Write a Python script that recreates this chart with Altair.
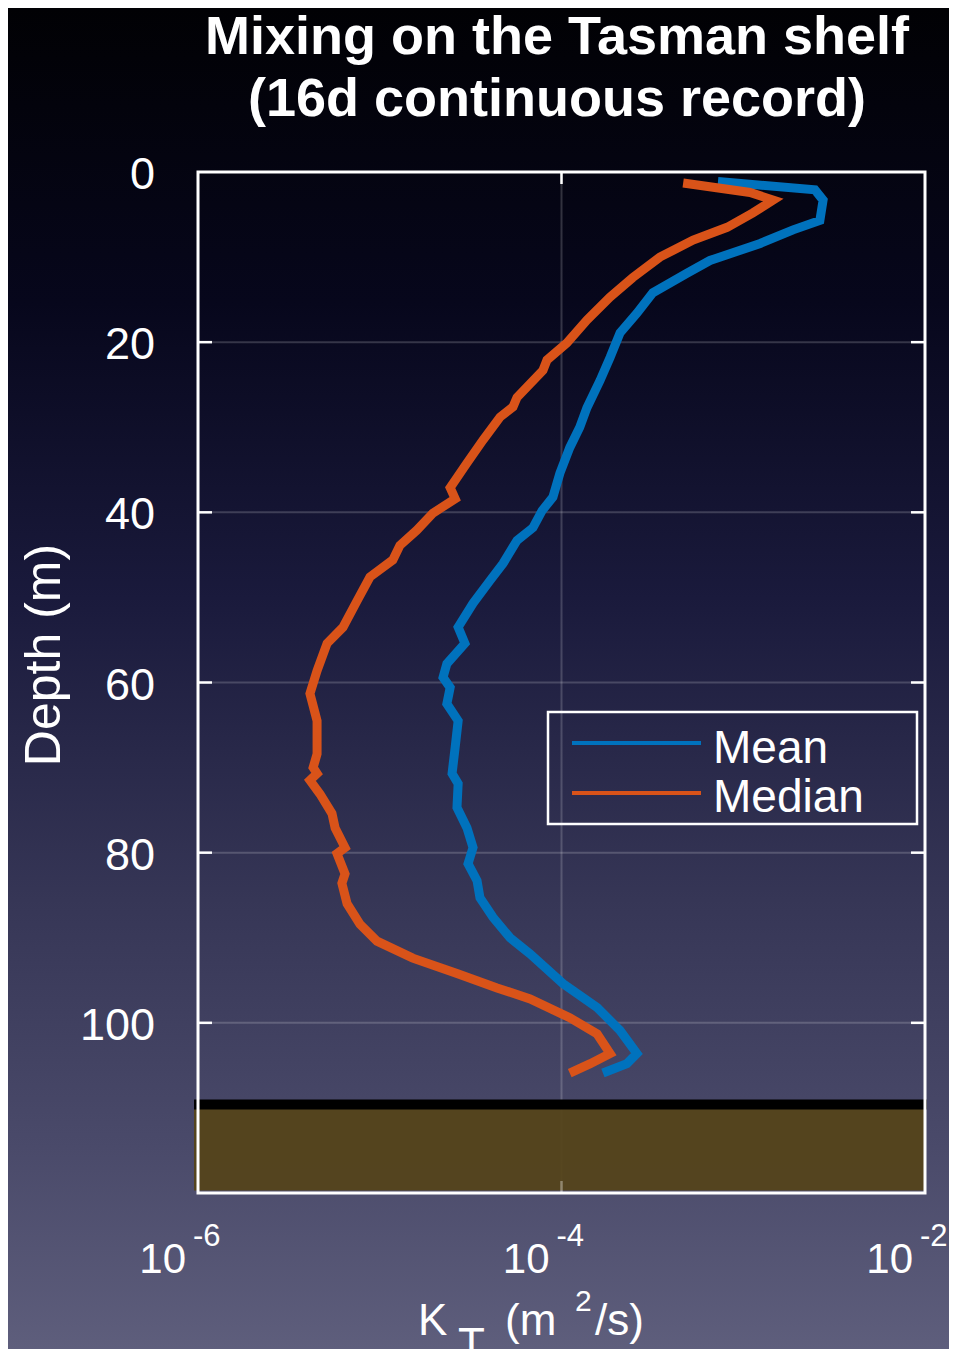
import altair as alt
import pandas as pd

# ---------------- data ----------------
depth_mean = [1.1, 2.1, 3.3, 5.7, 6.8, 8.4, 10.4, 11.9, 14.2, 16.6, 18.9, 21.8, 24.5,
              27.7, 30.0, 32.4, 35.4, 38.2, 39.8, 41.8, 43.3, 46.0, 48.0, 50.7, 53.5,
              55.4, 57.8, 59.4, 60.6, 62.5, 64.5, 67.6, 70.7, 71.9, 74.7, 77.1, 79.4,
              81.3, 83.3, 85.3, 87.6, 90.0, 91.9, 95.4, 98.2, 100.9, 103.6, 104.8, 105.9]
k_mean = [7.26e-4, 2.48e-3, 2.75e-3, 2.64e-3, 1.88e-3, 1.24e-3, 6.56e-4, 4.90e-4,
          3.18e-4, 2.60e-4, 2.10e-4, 1.85e-4, 1.63e-4, 1.38e-4, 1.26e-4, 1.11e-4,
          9.8e-5, 8.97e-5, 7.82e-5, 6.97e-5, 5.69e-5, 4.77e-5, 4.05e-5, 3.26e-5,
          2.70e-5, 2.94e-5, 2.34e-5, 2.23e-5, 2.44e-5, 2.34e-5, 2.70e-5, 2.60e-5,
          2.50e-5, 2.70e-5, 2.66e-5, 3.02e-5, 3.26e-5, 3.06e-5, 3.43e-5, 3.56e-5,
          4.20e-5, 5.21e-5, 6.72e-5, 1.02e-4, 1.57e-4, 2.10e-4, 2.60e-4, 2.29e-4, 1.69e-4]

depth_median = [1.3, 2.4, 3.3, 4.8, 6.5, 8.0, 10.0, 12.4, 14.7, 17.4,
                20.1, 22.1, 23.3, 26.5, 27.6, 28.8, 31.5, 34.2, 37.1, 38.4,
                40.1, 42.1, 43.9, 45.6, 47.6, 50.4, 53.5, 55.4, 58.6, 61.3,
                64.5, 68.4, 70.0, 70.7, 71.5, 73.1, 75.4, 77.1, 79.4, 80.1,
                82.5, 83.6, 86.0, 88.4, 90.4, 92.4, 94.2, 95.9, 97.2, 99.4,
                101.3, 103.6, 104.8, 105.9]
k_median = [4.67e-4, 1.09e-3, 1.46e-3, 1.13e-3, 8.15e-4, 5.30e-4, 3.48e-4, 2.47e-4, 1.85e-4, 1.38e-4,
            1.07e-4, 8.32e-5, 7.91e-5, 5.69e-5, 5.41e-5, 4.59e-5, 3.70e-5, 3.02e-5, 2.44e-5, 2.60e-5,
            1.96e-5, 1.60e-5, 1.29e-5, 1.18e-5, 8.83e-6, 7.50e-6, 6.28e-6, 5.13e-6, 4.52e-6, 4.13e-6,
            4.52e-6, 4.52e-6, 4.30e-6, 4.52e-6, 4.13e-6, 4.69e-6, 5.46e-6, 5.68e-6, 6.44e-6, 5.82e-6,
            6.44e-6, 6.19e-6, 6.61e-6, 7.78e-6, 9.66e-6, 1.52e-5, 2.66e-5, 4.42e-5, 6.72e-5, 1.11e-4,
            1.57e-4, 1.85e-4, 1.44e-4, 1.11e-4]

series_names = ["Mean", "Median"]
series_colors = ["#0072BD", "#D95319"]

y_ticks = [0, 20, 40, 60, 80, 100]
y_tick_labels = ["0", "20", "40", "60", "80", "100"]
y_grid = [20, 40, 60, 80, 100]
x_ticks = [1e-6, 1e-4, 1e-2]
x_tick_base = ["10", "10", "10"]
x_exponents = ["-6", "-4", "-2"]
x_grid = [1e-4]

seabed_top = 109.6
seabed_bottom = 119.7

title_lines = ["Mixing on the Tasman shelf", "(16d continuous record)"]
y_title = "Depth (m)"
x_title_parts = ["K", "T", "(m", "2", "/s)"]

# ---------------- tables ----------------
rows = []
for i, (d, k) in enumerate(zip(depth_mean, k_mean)):
    rows.append({"series": "Mean", "depth": d, "k": k, "idx": i})
for i, (d, k) in enumerate(zip(depth_median, k_median)):
    rows.append({"series": "Median", "depth": d, "k": k, "idx": i})
curves = pd.DataFrame(rows)

W, H = 727, 1021
PL, PT, PR, PB = 190, 164, 24, 156
FONT = "Liberation Sans"

xscale = alt.Scale(type="log", domain=[1e-6, 1e-2], nice=False)
yscale = alt.Scale(domain=[0, 120], reverse=True, nice=False, zero=False)
cscale = alt.Scale(domain=series_names, range=series_colors)

one = alt.Data(values=[{"a": 1}])

# background gradient covering the whole view
bg = alt.Chart(one).mark_rect(
    fill={"gradient": "linear", "x1": 0, "y1": 0, "x2": 0, "y2": 1,
          "stops": [{"offset": 0.0, "color": "#010104"},
                    {"offset": 0.22, "color": "#07071c"},
                    {"offset": 0.44, "color": "#1a1a3c"},
                    {"offset": 0.665, "color": "#363656"},
                    {"offset": 0.85, "color": "#4a4a6a"},
                    {"offset": 1.0, "color": "#5e5e7c"}]},
    strokeWidth=0,
).encode(x=alt.value(-PL), x2=alt.value(W + PR), y=alt.value(-PT), y2=alt.value(H + PB))

grid_h = alt.Chart(pd.DataFrame({"depth": y_grid})).mark_rule(
    color="white", opacity=0.18, strokeWidth=2
).encode(y=alt.Y("depth:Q", scale=yscale, axis=None), x=alt.value(0), x2=alt.value(W))

grid_v = alt.Chart(pd.DataFrame({"k": x_grid})).mark_rule(
    color="white", opacity=0.18, strokeWidth=2
).encode(x=alt.X("k:Q", scale=xscale, axis=None), y=alt.value(0), y2=alt.value(H))

seabed = alt.Chart(pd.DataFrame({"top": [seabed_top], "bottom": [seabed_bottom]})).mark_rect(
    color="#554419", opacity=0.93
).encode(y=alt.Y("top:Q", scale=yscale, axis=None), y2="bottom:Q",
         x=alt.value(-4), x2=alt.value(W))

seabed_line = alt.Chart(pd.DataFrame({"top": [seabed_top]})).mark_rule(
    color="black", strokeWidth=10
).encode(y=alt.Y("top:Q", scale=yscale, axis=None), x=alt.value(-4), x2=alt.value(W + 2))

lines = alt.Chart(curves).mark_line(strokeWidth=9, clip=True).encode(
    x=alt.X("k:Q", scale=xscale, axis=None),
    y=alt.Y("depth:Q", scale=yscale, axis=None),
    color=alt.Color("series:N", scale=cscale, legend=None),
    order=alt.Order("idx:Q"),
    detail="series:N",
)

# inward ticks (left/right for depth, top/bottom for K)
ticks_l = alt.Chart(pd.DataFrame({"depth": y_grid})).mark_rule(color="white", strokeWidth=2.5).encode(
    y=alt.Y("depth:Q", scale=yscale, axis=None), x=alt.value(0), x2=alt.value(14))
ticks_r = alt.Chart(pd.DataFrame({"depth": y_grid})).mark_rule(color="white", strokeWidth=2.5).encode(
    y=alt.Y("depth:Q", scale=yscale, axis=None), x=alt.value(W - 14), x2=alt.value(W))
ticks_t = alt.Chart(pd.DataFrame({"k": x_grid})).mark_rule(color="white", strokeWidth=2.5).encode(
    x=alt.X("k:Q", scale=xscale, axis=None), y=alt.value(0), y2=alt.value(12))
ticks_b = alt.Chart(pd.DataFrame({"k": x_grid})).mark_rule(color="white", strokeWidth=2.5, opacity=0.35).encode(
    x=alt.X("k:Q", scale=xscale, axis=None), y=alt.value(H - 12), y2=alt.value(H))

frame = alt.Chart(one).mark_rect(filled=False, stroke="white", strokeWidth=3).encode(
    x=alt.value(0), x2=alt.value(W), y=alt.value(0), y2=alt.value(H))

# axis tick labels, positioned through the scales
ylabels = alt.Chart(pd.DataFrame({"depth": y_ticks, "lab": y_tick_labels})).mark_text(
    align="right", baseline="middle", dx=-43, dy=3, fontSize=45, font=FONT, color="white"
).encode(y=alt.Y("depth:Q", scale=yscale, axis=None), x=alt.value(0), text="lab:N")

xbase = alt.Chart(pd.DataFrame({"k": x_ticks, "b": x_tick_base})).mark_text(
    align="right", baseline="alphabetic", dx=-12, fontSize=42, font=FONT, color="white"
).encode(x=alt.X("k:Q", scale=xscale, axis=None), y=alt.value(1101), text="b:N")

exps = alt.Chart(pd.DataFrame({"k": x_ticks, "e": x_exponents})).mark_text(
    align="left", baseline="alphabetic", dx=-5, fontSize=31, font=FONT, color="white"
).encode(x=alt.X("k:Q", scale=xscale, axis=None), y=alt.value(1074), text="e:N")


def label(txt, px, py, size, weight="normal", align="left", angle=0):
    return alt.Chart(one).mark_text(
        text=txt, align=align, baseline="alphabetic", font=FONT, fontSize=size,
        fontWeight=weight, color="white", angle=angle
    ).encode(x=alt.value(px), y=alt.value(py))


# chart title (two lines)
title1 = label(title_lines[0], 359, -118, 54, "bold", "center")
title2 = label(title_lines[1], 359, -56, 54, "bold", "center")

# y-axis title
ytitle = label(y_title, -138, 483, 50, "normal", "center", 270)

# x-axis title "K_T (m^2/s)" composed of pieces
xt_pos = [(220, 1163, 44), (260, 1187, 44), (307, 1163, 44), (377, 1139, 30), (397, 1163, 44)]
xtitle = [label(t, px, py, fs) for t, (px, py, fs) in zip(x_title_parts, xt_pos)]

# legend
leg_box = alt.Chart(one).mark_rect(filled=False, stroke="white", strokeWidth=2.5).encode(
    x=alt.value(350), x2=alt.value(719), y=alt.value(540), y2=alt.value(652))
leg = [leg_box]
for name, col, ly, ty in zip(series_names, series_colors, [571, 621], [591, 640]):
    leg.append(alt.Chart(one).mark_rule(strokeWidth=4, color=col).encode(
        y=alt.value(ly), x=alt.value(374), x2=alt.value(503)))
    leg.append(label(name, 515, ty, 46))

chart = alt.layer(
    bg, grid_h, grid_v, seabed, lines, seabed_line, ticks_l, ticks_r, ticks_t, ticks_b,
    frame, ylabels, xbase, exps, title1, title2, ytitle, *xtitle, *leg
).properties(
    width=W, height=H,
    autosize=alt.AutoSizeParams(type="none"),
    padding={"left": PL, "top": PT, "right": PR, "bottom": PB},
    background="#2a2a48",
).configure_view(stroke=None)

chart.save("out.html", embed_options={"renderer": "svg", "actions": False})
